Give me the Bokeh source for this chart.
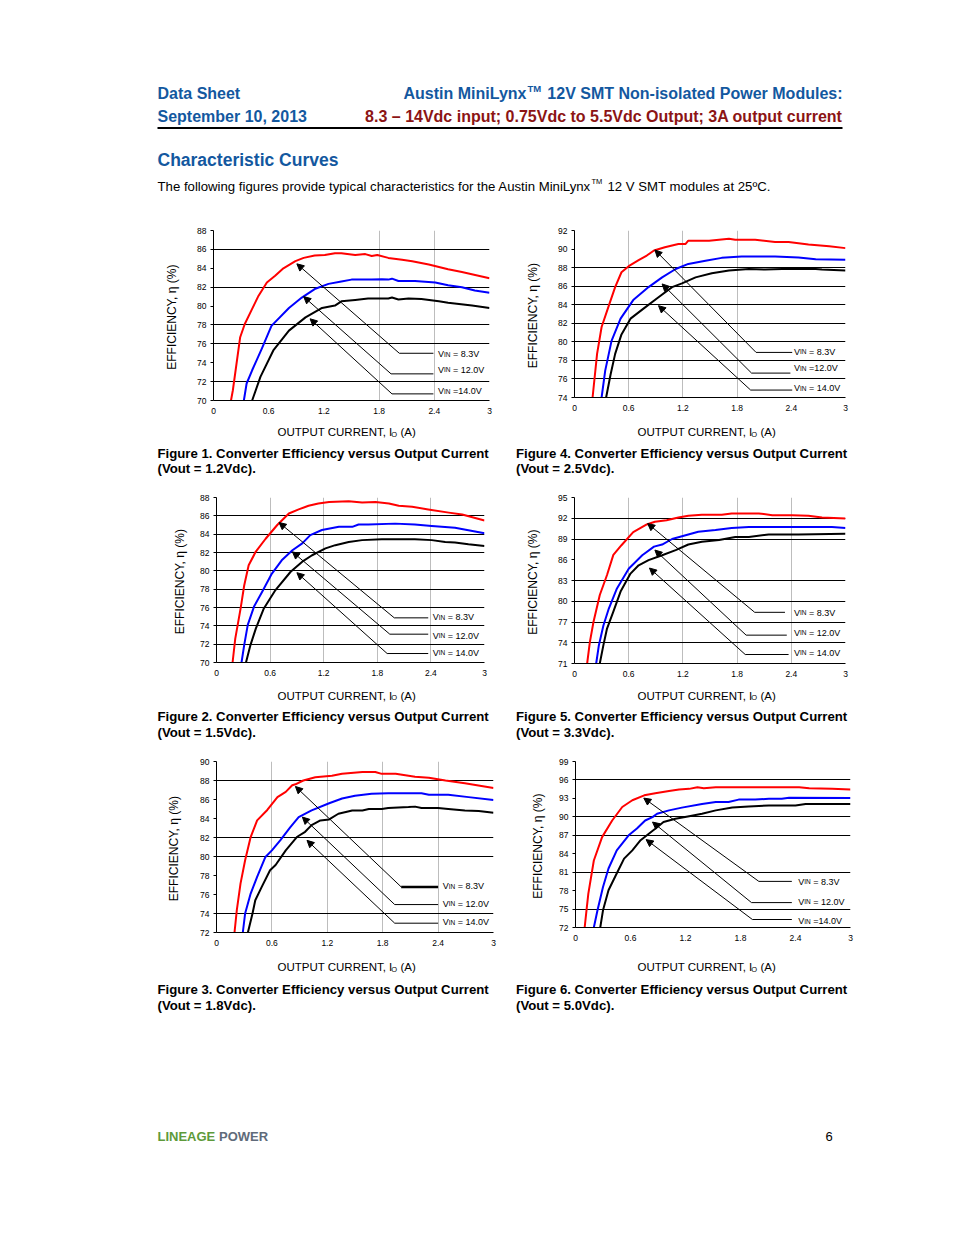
from bokeh.plotting import figure
from bokeh.layouts import column, row
from bokeh.models import Range1d, FixedTicker, Arrow, NormalHead, ColumnDataSource, Spacer
from bokeh.core.properties import value
from bokeh.embed import file_html
from bokeh.resources import INLINE

FONT = "Liberation Sans"
HDR_BLUE = "#13589F"
HDR_RED = "#8C1414"

# ---------------- data ----------------
x_ticks = [0, 0.6, 1.2, 1.8, 2.4, 3]
x_tick_labels = ["0", "0.6", "1.2", "1.8", "2.4", "3"]

# Figure 1 (Vout = 1.2Vdc)
f1_io_83 = [0.19, 0.21, 0.29, 0.34, 0.42, 0.49, 0.58, 0.67, 0.76, 0.89, 0.98, 1.10, 1.21, 1.32, 1.39, 1.54, 1.65, 1.72, 1.78, 1.90, 2.05, 2.16, 2.34, 2.55, 2.70, 3.0]
f1_ef_83 = [70, 71.06, 76.7, 78.1, 79.7, 81.1, 82.5, 83.2, 84.0, 84.75, 85.1, 85.35, 85.4, 85.6, 85.6, 85.4, 85.5, 85.3, 85.4, 85.1, 84.9, 84.75, 84.4, 83.9, 83.6, 82.95]
f1_io_12 = [0.33, 0.36, 0.42, 0.53, 0.63, 0.82, 0.96, 1.10, 1.25, 1.39, 1.50, 1.72, 1.83, 1.90, 1.94, 2.01, 2.19, 2.41, 2.55, 2.70, 2.84, 3.0]
f1_ef_12 = [70, 71.8, 73.2, 75.6, 77.9, 79.8, 80.9, 81.8, 82.35, 82.6, 82.8, 82.8, 82.85, 82.8, 82.9, 82.65, 82.65, 82.5, 82.2, 82.0, 81.65, 81.4]
f1_io_14 = [0.42, 0.51, 0.65, 0.82, 1.0, 1.18, 1.32, 1.39, 1.54, 1.68, 1.90, 1.94, 2.01, 2.12, 2.26, 2.45, 2.55, 2.81, 3.0]
f1_ef_14 = [70, 72.5, 75.3, 77.4, 78.8, 79.8, 80.05, 80.5, 80.65, 80.8, 80.8, 80.9, 80.7, 80.8, 80.75, 80.5, 80.35, 80.05, 79.8]

# Figure 2 (Vout = 1.5Vdc)
f2_io_83 = [0.18, 0.21, 0.27, 0.31, 0.36, 0.44, 0.55, 0.68, 0.81, 0.92, 1.03, 1.14, 1.26, 1.48, 1.63, 1.78, 1.93, 2.04, 2.19, 2.37, 2.60, 2.75, 3.0]
f2_ef_83 = [70, 72.6, 75.9, 78.4, 80.6, 82.1, 83.5, 85.0, 86.25, 86.7, 87.1, 87.35, 87.5, 87.6, 87.45, 87.5, 87.35, 87.1, 87.0, 86.7, 86.35, 86.15, 85.5]
f2_io_12 = [0.28, 0.31, 0.35, 0.42, 0.51, 0.62, 0.73, 0.85, 0.96, 1.05, 1.18, 1.37, 1.52, 1.59, 1.70, 2.0, 2.22, 2.41, 2.67, 3.0]
f2_ef_12 = [70, 71.9, 74.1, 76.1, 77.7, 79.7, 81.15, 82.25, 83.0, 83.9, 84.45, 84.8, 84.8, 85.05, 85.05, 85.15, 85.05, 84.9, 84.7, 84.1]
f2_io_14 = [0.33, 0.38, 0.44, 0.53, 0.66, 0.83, 0.96, 1.07, 1.22, 1.33, 1.48, 1.63, 1.85, 2.22, 2.41, 2.56, 2.67, 2.82, 3.0]
f2_ef_14 = [70, 71.9, 73.7, 75.9, 77.9, 79.9, 81.0, 81.7, 82.45, 82.8, 83.15, 83.35, 83.45, 83.45, 83.35, 83.15, 83.1, 82.9, 82.7]

# Figure 3 (Vout = 1.8Vdc)
f3_io_83 = [0.195, 0.22, 0.26, 0.31, 0.37, 0.44, 0.55, 0.66, 0.75, 0.82, 0.855, 0.94, 1.07, 1.25, 1.36, 1.58, 1.72, 1.79, 1.94, 2.15, 2.30, 2.48, 2.69, 3.0]
f3_ef_83 = [72, 74.35, 77.15, 79.6, 82.05, 83.8, 84.9, 86.25, 86.8, 87.5, 87.6, 88.0, 88.35, 88.5, 88.7, 88.9, 88.9, 88.7, 88.7, 88.4, 88.3, 88.0, 87.7, 87.2]
f3_io_12 = [0.285, 0.31, 0.37, 0.44, 0.53, 0.60, 0.69, 0.80, 0.89, 1.03, 1.22, 1.36, 1.50, 1.68, 1.86, 2.22, 2.30, 2.51, 2.73, 3.0]
f3_ef_12 = [72, 74.0, 76.1, 77.85, 79.95, 80.65, 81.7, 83.1, 84.15, 84.85, 85.6, 86.1, 86.4, 86.6, 86.65, 86.65, 86.5, 86.5, 86.25, 85.95]
f3_io_14 = [0.34, 0.39, 0.42, 0.49, 0.58, 0.64, 0.75, 0.87, 0.96, 1.03, 1.125, 1.22, 1.32, 1.47, 1.58, 1.65, 1.79, 1.86, 2.08, 2.15, 2.22, 2.40, 2.51, 2.69, 2.84, 3.0]
f3_ef_14 = [72, 74.0, 75.4, 76.8, 78.55, 79.1, 80.65, 82.05, 82.6, 83.3, 83.8, 83.9, 84.5, 84.85, 84.85, 85.0, 85.0, 85.1, 85.2, 85.25, 85.1, 85.1, 85.0, 84.85, 84.8, 84.6]

# Figure 4 (Vout = 2.5Vdc)
f4_io_83 = [0.20, 0.25, 0.30, 0.38, 0.45, 0.52, 0.60, 0.71, 0.80, 0.88, 1.00, 1.15, 1.23, 1.26, 1.49, 1.71, 1.78, 2.0, 2.22, 2.37, 2.59, 2.82, 3.0]
f4_ef_83 = [74, 78.7, 81.6, 83.9, 85.9, 87.5, 88.15, 88.8, 89.3, 89.85, 90.2, 90.55, 90.55, 90.9, 90.9, 91.1, 91.0, 91.0, 90.75, 90.75, 90.5, 90.3, 90.1]
f4_io_12 = [0.30, 0.34, 0.41, 0.51, 0.65, 0.82, 0.97, 1.12, 1.26, 1.45, 1.63, 1.85, 2.22, 2.48, 2.67, 3.0]
f4_ef_12 = [74, 76.9, 80.1, 82.5, 84.5, 85.9, 86.95, 87.85, 88.4, 88.75, 89.05, 89.2, 89.2, 89.1, 88.9, 88.85]
f4_io_14 = [0.35, 0.40, 0.45, 0.52, 0.62, 0.76, 0.93, 1.08, 1.19, 1.34, 1.52, 1.71, 1.93, 2.11, 2.30, 2.67, 2.74, 3.0]
f4_ef_14 = [74, 76.5, 78.7, 80.8, 82.5, 83.55, 84.8, 85.9, 86.3, 86.95, 87.4, 87.7, 87.85, 87.8, 87.85, 87.85, 87.8, 87.7]

# Figure 5 (Vout = 3.3Vdc)
f5_io_83 = [0.14, 0.17, 0.21, 0.28, 0.36, 0.43, 0.52, 0.65, 0.80, 0.89, 1.02, 1.15, 1.26, 1.41, 1.63, 1.74, 2.04, 2.19, 2.41, 2.59, 2.74, 3.0]
f5_ef_83 = [71, 74.1, 77.0, 80.9, 83.8, 86.7, 88.1, 90.0, 91.1, 91.5, 91.7, 92.1, 92.35, 92.5, 92.5, 92.7, 92.7, 92.45, 92.45, 92.35, 92.1, 91.95]
f5_io_12 = [0.24, 0.27, 0.32, 0.38, 0.47, 0.60, 0.75, 0.88, 0.97, 1.08, 1.23, 1.37, 1.56, 1.74, 1.93, 2.30, 2.85, 3.0]
f5_ef_12 = [71, 73.65, 76.5, 78.95, 81.85, 84.7, 86.65, 87.9, 88.2, 89.0, 89.55, 90.05, 90.3, 90.6, 90.75, 90.75, 90.75, 90.6]
f5_io_14 = [0.28, 0.32, 0.36, 0.43, 0.51, 0.62, 0.71, 0.82, 0.97, 1.12, 1.26, 1.41, 1.60, 1.78, 1.93, 2.15, 2.48, 3.0]
f5_ef_14 = [71, 73.65, 76.05, 78.5, 81.4, 84.0, 85.2, 85.95, 86.65, 87.4, 88.2, 88.6, 88.85, 89.3, 89.3, 89.65, 89.65, 89.75]

# Figure 6 (Vout = 5.0Vdc)
f6_io_83 = [0.10, 0.12, 0.14, 0.20, 0.29, 0.40, 0.51, 0.62, 0.75, 0.87, 1.02, 1.13, 1.24, 1.33, 1.40, 1.53, 1.89, 2.44, 2.55, 2.80, 3.0]
f6_ef_83 = [72, 74.8, 77.5, 82.9, 86.7, 89.4, 91.6, 92.7, 93.5, 93.85, 94.2, 94.45, 94.55, 94.8, 94.65, 94.8, 94.8, 94.8, 94.65, 94.55, 94.45]
f6_io_12 = [0.20, 0.24, 0.30, 0.36, 0.45, 0.58, 0.67, 0.76, 0.84, 0.89, 1.02, 1.16, 1.38, 1.53, 1.67, 1.78, 1.96, 2.11, 2.25, 2.33, 3.0]
f6_ef_12 = [72, 74.8, 78.6, 81.6, 84.55, 87.0, 88.1, 89.4, 89.95, 90.5, 91.05, 91.5, 92.1, 92.4, 92.4, 92.8, 92.8, 92.95, 92.95, 93.1, 93.05]
f6_io_14 = [0.27, 0.30, 0.36, 0.44, 0.53, 0.62, 0.71, 0.80, 0.87, 0.96, 1.09, 1.24, 1.38, 1.53, 1.71, 1.89, 2.11, 2.40, 2.51, 3.0]
f6_ef_14 = [72, 74.8, 78.05, 80.5, 83.2, 84.55, 86.2, 87.25, 88.05, 89.15, 89.7, 90.1, 90.5, 91.05, 91.5, 91.7, 91.85, 91.85, 92.1, 92.1]

# annotation call-outs: arrow head, arrow tail, leader end, label position
f1_head_x = [0.906, 0.98, 1.05]; f1_head_y = [84.47, 81.0, 78.65]
f1_tail_x = [2.02, 1.93, 1.94]; f1_tail_y = [75.0, 72.82, 70.7]
f1_end_x = [2.39, 2.39, 2.39]; f1_lab_x = 2.44; f1_lab_y = [75.0, 73.35, 71.06]
f1_lab_txt = ["= 8.3V", "= 12.0V", "=14.0V"]

f2_head_x = [0.70, 0.85, 0.90]; f2_head_y = [85.27, 82.07, 79.8]
f2_tail_x = [1.99, 1.94, 1.91]; f2_tail_y = [74.87, 73.09, 70.98]
f2_end_x = [2.37, 2.37, 2.37]; f2_lab_x = 2.42; f2_lab_y = [75.05, 73.02, 71.16]
f2_lab_txt = ["= 8.3V", "= 12.0V", "= 14.0V"]

f3_head_x = [0.855, 0.93, 0.98]; f3_head_y = [87.37, 84.15, 81.7]
f3_tail_x = [2.0, 1.93, 1.93]; f3_tail_y = [76.8, 74.94, 72.98]
f3_end_x = [2.40, 2.40, 2.40]; f3_lab_x = 2.45; f3_lab_y = [76.97, 75.12, 73.19]
f3_lab_txt = ["= 8.3V", "= 12.0V", "= 14.0V"]

f4_head_x = [0.89, 0.97, 0.93]; f4_head_y = [89.9, 86.24, 83.9]
f4_tail_x = [2.01, 1.96, 1.95]; f4_tail_y = [78.86, 76.63, 74.8]
f4_end_x = [2.41, 2.39, 2.41]; f4_lab_x = 2.43; f4_lab_y = [79.04, 77.24, 75.08]
f4_lab_txt = ["= 8.3V", "=12.0V", "= 14.0V"]

f5_head_x = [0.81, 0.89, 0.83]; f5_head_y = [91.24, 87.4, 84.8]
f5_tail_x = [1.995, 1.90, 1.89]; f5_tail_y = [78.4, 75.1, 72.3]
f5_end_x = [2.33, 2.35, 2.37]; f5_lab_x = 2.43; f5_lab_y = [78.47, 75.58, 72.69]
f5_lab_txt = ["= 8.3V", "= 12.0V", "= 14.0V"]

f6_head_x = [0.745, 0.84, 0.77]; f6_head_y = [93.05, 89.15, 86.3]
f6_tail_x = [2.0, 1.92, 1.93]; f6_tail_y = [79.5, 76.05, 73.3]
f6_end_x = [2.36, 2.36, 2.36]; f6_lab_x = 2.43; f6_lab_y = [79.57, 76.33, 73.19]
f6_lab_txt = ["= 8.3V", "= 12.0V", "=14.0V"]

captions = [
    ("Figure 1. Converter Efficiency versus Output Current", "(Vout = 1.2Vdc)."),
    ("Figure 2. Converter Efficiency versus Output Current", "(Vout = 1.5Vdc)."),
    ("Figure 3. Converter Efficiency versus Output Current", "(Vout = 1.8Vdc)."),
    ("Figure 4. Converter Efficiency versus Output Current", "(Vout = 2.5Vdc)."),
    ("Figure 5. Converter Efficiency versus Output Current", "(Vout = 3.3Vdc)."),
    ("Figure 6. Converter Efficiency versus Output Current", "(Vout = 5.0Vdc)."),
]

# ---------------- helpers ----------------
def txt(f, x, y, s, size, color="black", bold=False, align="left", baseline="middle"):
    f.text(x=[x], y=[y], text=[s], text_font=value(FONT), text_font_size=f"{size}px",
           text_font_style="bold" if bold else "normal", text_color=color,
           text_align=align, text_baseline=baseline)


def text_fig(y0, h):
    f = figure(width=938, height=h, x_range=Range1d(8, 946), y_range=Range1d(y0 + h, y0),
               output_backend="svg", toolbar_location=None, min_border=0,
               x_axis_type=None, y_axis_type=None, outline_line_color=None,
               background_fill_color="white", border_fill_color="white")
    f.xgrid.visible = False
    f.ygrid.visible = False
    return f


def xlabel(f, x0, y):
    txt(f, x0, y, "OUTPUT CURRENT, I", 11.5)
    txt(f, x0 + 113.8, y + 2.0, "O", 7.5)
    txt(f, x0 + 123.0, y, "(A)", 11.5)


def caption(f, x0, y1, y2, c):
    txt(f, x0, y1, c[0], 13.2, bold=True)
    txt(f, x0, y2, c[1], 13.2, bold=True)


def chart(w, h, left, right, top, bottom, ymin, ymax, ystep, grid, vgrid, lab_so,
          series, ann, leader_w):
    p = figure(width=w, height=h, x_range=Range1d(0, 3), y_range=Range1d(ymin, ymax),
               output_backend="svg", toolbar_location=None,
               min_border_left=left, min_border_right=right,
               min_border_top=top, min_border_bottom=bottom,
               outline_line_color=None, background_fill_color="white",
               border_fill_color="white")
    # grid
    p.ygrid.ticker = FixedTicker(ticks=grid)
    p.ygrid.grid_line_color = "black"
    p.ygrid.grid_line_width = 1
    p.xgrid.ticker = FixedTicker(ticks=vgrid)
    p.xgrid.grid_line_color = "#BDBDBD"
    p.xgrid.grid_line_width = 1
    # axes
    p.xaxis.ticker = FixedTicker(ticks=x_ticks)
    p.xaxis.major_label_overrides = dict(zip(x_ticks, x_tick_labels))
    p.yaxis.ticker = FixedTicker(ticks=list(range(ymin, ymax + 1, ystep)))
    for ax in (p.xaxis[0], p.yaxis[0]):
        ax.axis_line_color = "black"
        ax.axis_line_width = 1
        ax.major_label_text_font = FONT
        ax.major_label_text_font_size = "8.5px"
        ax.major_label_text_color = "black"
        ax.minor_tick_in = 0
        ax.minor_tick_out = 0
        ax.major_tick_in = 0
    p.xaxis.major_tick_out = 0
    p.xaxis.major_label_standoff = 7
    p.yaxis.major_tick_out = 3
    p.yaxis.major_tick_line_color = "black"
    p.yaxis.major_label_standoff = 4
    p.yaxis.axis_label = "EFFICIENCY, \u03b7  (%)"
    p.yaxis.axis_label_text_font = FONT
    p.yaxis.axis_label_text_font_size = "12px"
    p.yaxis.axis_label_text_font_style = "normal"
    p.yaxis.axis_label_text_color = "black"
    p.yaxis.axis_label_standoff = int(round(lab_so))
    # curves
    colors = ["#FF0000", "#0000FF", "black"]
    for (xs, ys), c in zip(series, colors):
        p.line(xs, ys, line_color=c, line_width=2, line_join="round")
    # call-outs
    hx, hy, tx, ty, ex, lx, ly, lt = ann
    p.segment(x0=tx, y0=ty, x1=ex, y1=ty, line_color="black", line_width=leader_w)
    src = ColumnDataSource(dict(xs=tx, ys=ty, xe=hx, ye=hy))
    p.add_layout(Arrow(end=NormalHead(size=7, fill_color="black", line_color="black", line_width=1),
                       x_start="xs", y_start="ys", x_end="xe", y_end="ye", source=src,
                       line_color="black", line_width=1))
    n = len(ly)
    common = dict(text_font=value(FONT), text_color="black", text_align="left",
                  text_baseline="alphabetic", y_offset=1.0)
    p.text(x=[lx] * n, y=ly, text=["V"] * n, text_font_size="9px", **common)
    p.text(x=[lx] * n, y=ly, text=["IN"] * n, text_font_size="6.5px", x_offset=6.0, **common)
    p.text(x=[lx] * n, y=ly, text=lt, text_font_size="9px", x_offset=15.0, **common)
    return p


# ---------------- page header ----------------
hdr = text_fig(8, 210)
txt(hdr, 157, 92.5, "Data Sheet", 16, HDR_BLUE, bold=True)
txt(hdr, 157, 115.5, "September 10, 2013", 16, HDR_BLUE, bold=True)
txt(hdr, 526, 92.5, "Austin MiniLynx", 16, HDR_BLUE, bold=True, align="right")
txt(hdr, 527, 87.5, "TM", 9.5, HDR_BLUE, bold=True)
txt(hdr, 842, 92.5, "12V SMT Non-isolated Power Modules:", 16, HDR_BLUE, bold=True, align="right")
txt(hdr, 842, 115.5, "8.3 \u2013 14Vdc input; 0.75Vdc to 5.5Vdc Output; 3A output current", 16, HDR_RED,
    bold=True, align="right")
hdr.segment(x0=[157], y0=[127.5], x1=[842], y1=[127.5], line_color="black", line_width=2)
txt(hdr, 157, 159.5, "Characteristic Curves", 17.5, HDR_BLUE, bold=True)
txt(hdr, 157, 186, "The following figures provide typical characteristics for the Austin MiniLynx", 13.2)
txt(hdr, 591, 181, "TM", 7.5)
txt(hdr, 607, 186, "12 V SMT modules at 25\u00baC.", 13.2)

# ---------------- charts ----------------
c1 = chart(497, 204, 205, 16, 12, 22, 70, 88, 2, [72, 76, 78, 82, 86, 88], [1.8, 2.4, 3], 15,
           [(f1_io_83, f1_ef_83), (f1_io_12, f1_ef_12), (f1_io_14, f1_ef_14)],
           (f1_head_x, f1_head_y, f1_tail_x, f1_tail_y, f1_end_x, f1_lab_x, f1_lab_y, f1_lab_txt), 1)
c4 = chart(441, 204, 69, 101, 12, 25, 74, 92, 2, [76, 78, 80, 82, 84, 86, 88], [0.6, 1.2, 1.8], 15,
           [(f4_io_83, f4_ef_83), (f4_io_12, f4_ef_12), (f4_io_14, f4_ef_14)],
           (f4_head_x, f4_head_y, f4_tail_x, f4_tail_y, f4_end_x, f4_lab_x, f4_lab_y, f4_lab_txt), 1)

capA = text_fig(422, 63)
xlabel(capA, 277, 431.7)
xlabel(capA, 637, 431.7)
caption(capA, 157, 453.3, 468.3, captions[0])
caption(capA, 515.5, 453.3, 468.3, captions[3])

c2 = chart(497, 199, 208, 21, 12, 22, 70, 88, 2, [72, 74, 76, 78, 80, 82, 84, 86, 88],
           [0.6, 1.2, 1.8, 2.4, 3], 10,
           [(f2_io_83, f2_ef_83), (f2_io_12, f2_ef_12), (f2_io_14, f2_ef_14)],
           (f2_head_x, f2_head_y, f2_tail_x, f2_tail_y, f2_end_x, f2_lab_x, f2_lab_y, f2_lab_txt), 1)
c5 = chart(441, 199, 69, 101, 12, 21, 71, 95, 3, [74, 77, 80, 83, 89, 92, 95],
           [0.6, 1.2, 1.8, 2.4], 15,
           [(f5_io_83, f5_ef_83), (f5_io_12, f5_ef_12), (f5_io_14, f5_ef_14)],
           (f5_head_x, f5_head_y, f5_tail_x, f5_tail_y, f5_end_x, f5_lab_x, f5_lab_y, f5_lab_txt), 1)

capB = text_fig(684, 65)
xlabel(capB, 277, 695)
xlabel(capB, 637, 695)
caption(capB, 157, 716, 732, captions[1])
caption(capB, 515.5, 716, 732, captions[4])

c3 = chart(497, 205, 208, 12, 12, 22, 72, 90, 2, [74, 80, 82, 88, 90],
           [0.6, 1.2, 1.8, 2.4, 3], 16,
           [(f3_io_83, f3_ef_83), (f3_io_12, f3_ef_12), (f3_io_14, f3_ef_14)],
           (f3_head_x, f3_head_y, f3_tail_x, f3_tail_y, f3_end_x, f3_lab_x, f3_lab_y, f3_lab_txt),
           [2.5, 1, 1])
c6 = chart(441, 205, 70, 96, 12, 27, 72, 99, 3, [75, 81, 87, 90, 96, 99], [], 11,
           [(f6_io_83, f6_ef_83), (f6_io_12, f6_ef_12), (f6_io_14, f6_ef_14)],
           (f6_head_x, f6_head_y, f6_tail_x, f6_tail_y, f6_end_x, f6_lab_x, f6_lab_y, f6_lab_txt), 1)

capC = text_fig(954, 196)
xlabel(capC, 277, 966.7)
xlabel(capC, 637, 966.7)
caption(capC, 157, 989.3, 1005, captions[2])
caption(capC, 515.5, 989.3, 1005, captions[5])
txt(capC, 157, 1136, "LINEAGE", 13, "#5E9A3A", bold=True)
txt(capC, 218.5, 1136, "POWER", 13, "#5F6B7A", bold=True)
txt(capC, 828.5, 1136, "6", 13, align="center")

page = column(hdr,
              row(column(c1), column(c4)), capA,
              row(column(c2), column(c5)), capB,
              row(column(c3), column(c6)), capC)
layout = column(Spacer(width=946, height=8), row(Spacer(width=8, height=8), page))

with open("out.html", "w") as fh:
    fh.write(file_html(layout, INLINE))
